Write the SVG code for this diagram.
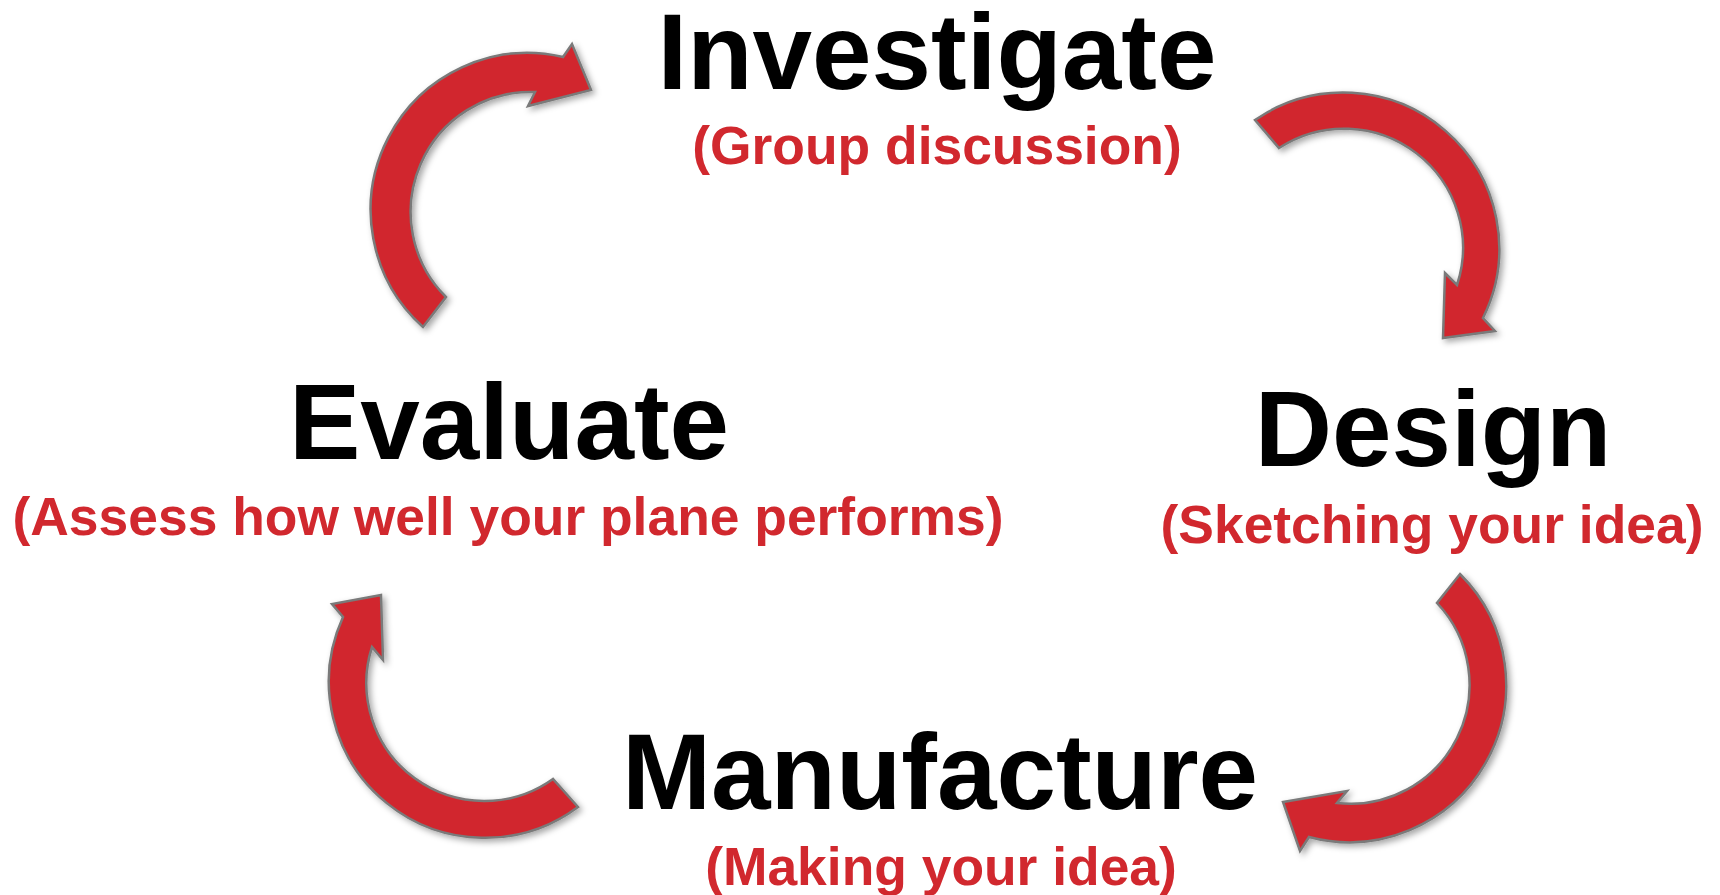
<svg xmlns="http://www.w3.org/2000/svg" width="1720" height="895" viewBox="0 0 1720 895">
<style>
.title{font-family:"Liberation Sans",Arial,sans-serif;font-weight:bold;font-size:107px;fill:#000;text-anchor:middle}
.sub{font-family:"Liberation Sans",Arial,sans-serif;font-weight:bold;font-size:53.4px;fill:#D1282E;text-anchor:middle}
.arrow{fill:#D1282E;stroke:#7A7A7A;stroke-width:2.5;stroke-linejoin:miter;filter:url(#shadow)}
</style>
<defs>
<filter id="shadow" x="-20%" y="-20%" width="140%" height="140%">
<feDropShadow dx="3" dy="3" stdDeviation="3" flood-color="#000" flood-opacity="0.35"/>
</filter>
</defs>
<rect width="1720" height="895" fill="#fff"/>
<g id="connectors">
<path id="arrow-evaluate-investigate" class="arrow" d="M423,327 A157,157 0 0 1 563,57 L572,44 L591,90 L528,106 L535,92 A120,120 0 0 0 446,297 Z"/>
<path id="arrow-investigate-design" class="arrow" d="M1255,120 A156,156 0 0 1 1483,318 L1495,331 L1443,338 L1445,273 L1457,285 A119,119 0 0 0 1279,148 Z"/>
<path id="arrow-design-manufacture" class="arrow" d="M1460,574 A157,157 0 0 1 1309,837 L1300,851 L1283,802 L1347,791 L1337,803 A119,119 0 0 0 1437,603 Z"/>
<path id="arrow-manufacture-evaluate" class="arrow" d="M578,807 A156,156 0 0 1 343,617 L332,604 L381,595 L383,660 L372,647 A118,118 0 0 0 553,779 Z"/>
</g>
<g id="investigate">
<text class="title" x="937" y="89">Investigate</text>
<text class="sub" x="937" y="164">(Group discussion)</text>
</g>
<g id="design">
<text class="title" x="1433" y="466">Design</text>
<text class="sub" x="1432" y="543">(Sketching your idea)</text>
</g>
<g id="manufacture">
<text class="title" x="940" y="809">Manufacture</text>
<text class="sub" x="941" y="885">(Making your idea)</text>
</g>
<g id="evaluate">
<text class="title" x="509" y="459">Evaluate</text>
<text class="sub" x="508" y="535">(Assess how well your plane performs)</text>
</g>
</svg>
